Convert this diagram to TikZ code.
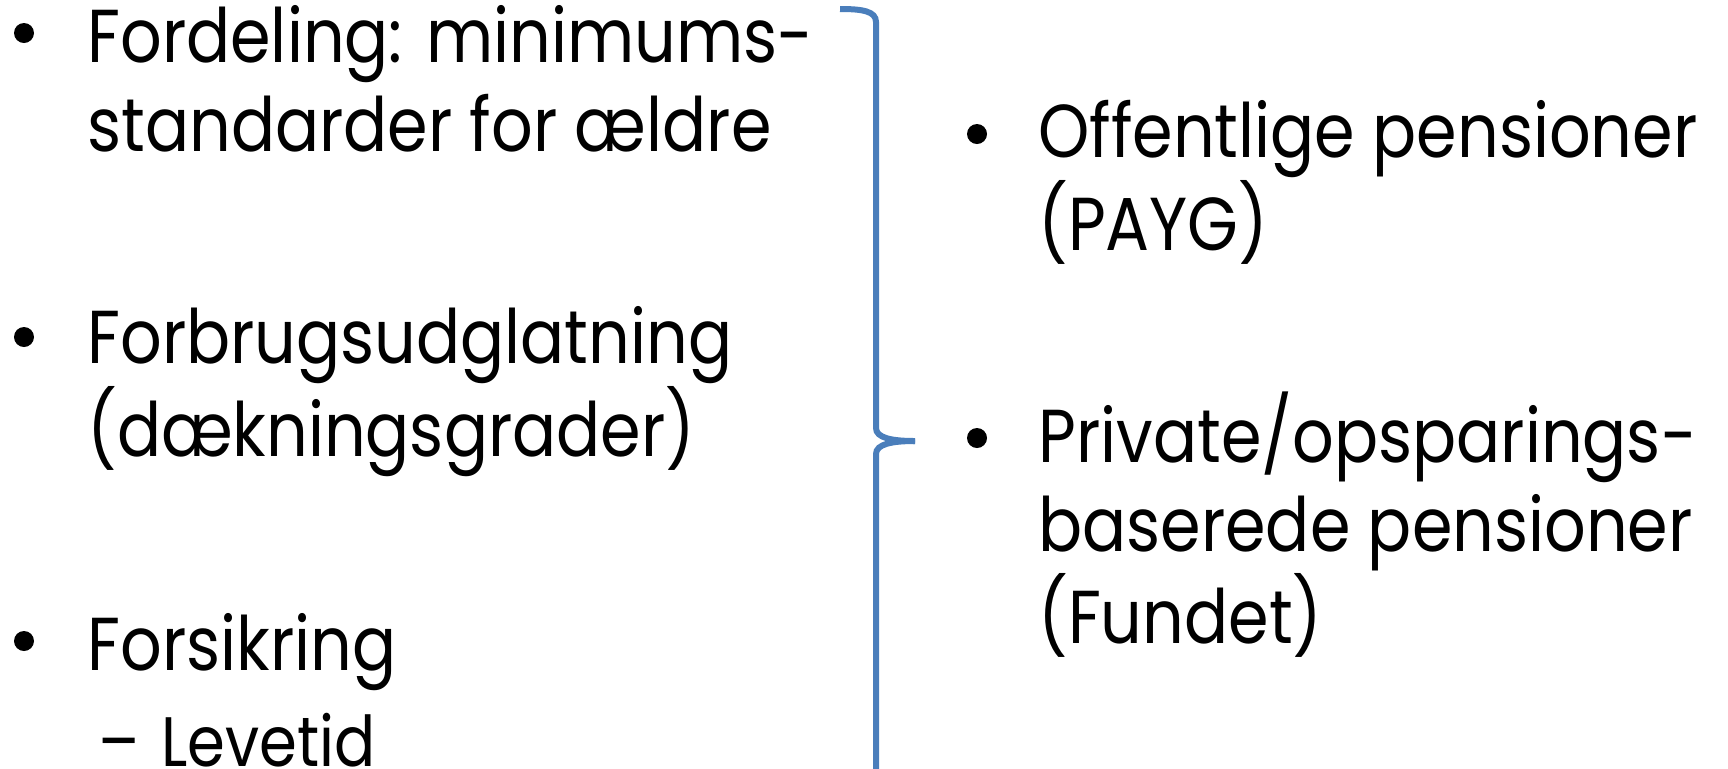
\documentclass[tikz,border=0pt]{standalone}
\usepackage{fontspec}
\setmainfont{Poppins}[FakeStretch=0.87]
\usetikzlibrary{positioning}
\definecolor{bracecol}{RGB}{74,126,187}
\tikzset{
  item/.style={anchor=base west, inner sep=0pt, align=left,
    font=\fontsize{37.5}{44.5}\selectfont},
  subitem/.style={anchor=base west, inner sep=0pt,
    font=\fontsize{35}{42}\selectfont},
  dot/.style={circle, fill=black, inner sep=0pt, minimum size=10pt},
  brace/.style={draw=bracecol, line width=3pt},
}
\begin{document}
\begin{tikzpicture}[x=0.5pt,y=-0.5pt]
    \useasboundingbox (0,0) rectangle (1728,768);
    \clip (0,0) rectangle (1728,768);
    %% venstre side (base = sidste linje)
    \node[dot] (d1) at (24,33) {};
    \node[item] (f1) at (87,151) {Fordeling: minimums-\\standarder for ældre};
    \node[dot] (d2) at (24,337) {};
    \node[item] (f2) at (87,456) {Forbrugsudglatning\\(dækningsgrader)};
    \node[dot] (d3) at (24,641) {};
    \node[item] (f3) at (87,670) {Forsikring};
    \node[subitem] (s1) at (98,766) {–\hspace{11pt}Levetid};
    %% klammen
    \draw[brace] (840,9) .. controls (862,9) and (876,11) .. (876,22)
        -- (876,428) .. controls (876,438) and (892,441) .. (915,441);
    \draw[brace] (915,441) .. controls (892,441) and (876,444) .. (876,454)
        -- (876,860) .. controls (876,871) and (862,873) .. (840,873);
    %% hoejre side
    \node[dot] (d4) at (977,134) {};
    \node[item] (o1) at (1038,250) {Offentlige pensioner\\(PAYG)};
    \node[dot] (d5) at (977,438) {};
    \node[item] (o2) at (1038,643) {Private/opsparings-\\baserede pensioner\\(Fundet)};
\end{tikzpicture}
\end{document}
